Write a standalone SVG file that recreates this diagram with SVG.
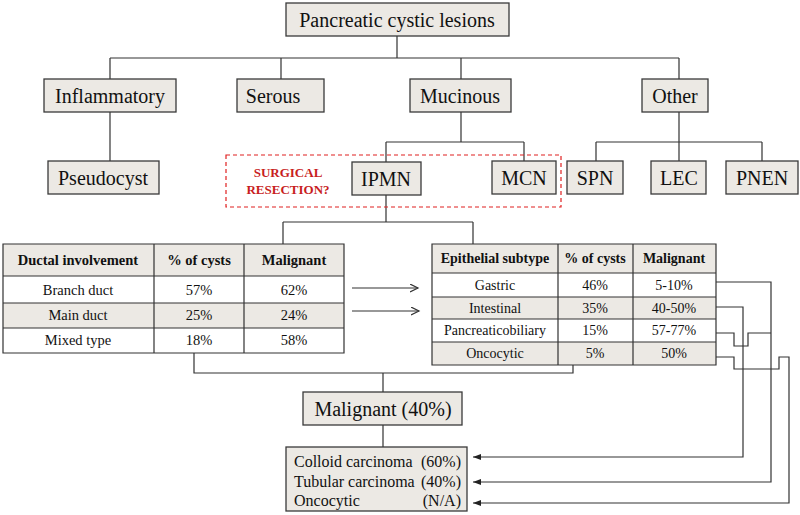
<svg xmlns="http://www.w3.org/2000/svg" width="800" height="515" viewBox="0 0 800 515">
<defs>
<style>
.box{fill:#ece9e4;stroke:#3a3a3a;stroke-width:1.3}
.c{fill:none;stroke:#333;stroke-width:1.2}
.grid{fill:none;stroke:#333;stroke-width:1.2}
.gray{fill:#ece9e4}
.white{fill:#ffffff}
</style>
<marker id="open" markerWidth="10" markerHeight="10" refX="8" refY="4" orient="auto" markerUnits="userSpaceOnUse">
<path d="M0,0 L8,4 L0,8" fill="none" stroke="#333" stroke-width="1.2"/>
</marker>
<marker id="fill" markerWidth="10" markerHeight="8" refX="8" refY="3" orient="auto" markerUnits="userSpaceOnUse">
<path d="M0,0 L8,3 L0,6 Z" fill="#222"/>
</marker>
</defs>
<rect width="800" height="515" fill="#ffffff"/>

<g id="connectors">
<path class="c" d="M397,36 V58 M110,58 H679 M110,58 V79 M281,58 V79 M461,58 V79 M679,58 V79"/>
<path class="c" d="M110,112 V161"/>
<path class="c" d="M461,112 V142 M386,142 H524 M386,142 V162 M524,142 V161"/>
<path class="c" d="M679,112 V161 M596,142 H762 M596,142 V161 M762,142 V161"/>
<path class="c" d="M386,195 V222 M283,222 H473 M283,222 V244 M473,222 V244"/>
<path class="c" d="M352,288 H418" marker-end="url(#open)"/>
<path class="c" d="M352,311 H419" marker-end="url(#open)"/>
<path class="c" d="M194,353 V373 H573 V365 M383,373 V392 M383,425 V447"/>
<path class="c" d="M716,282 H771 V482 H473" marker-end="url(#fill)"/>
<path class="c" d="M716,307 H743 V457 H473" marker-end="url(#fill)"/>
<path class="c" d="M716,333 H734 V346 H748 V333 H771"/>
<path class="c" d="M716,357 H734 V369 H779 V357 H789 V503 H473" marker-end="url(#fill)"/>
</g>

<g id="root">
<rect class="box" x="286" y="3" width="223" height="33"/>
<text font-family="Liberation Serif" font-size="20" fill="#111" text-anchor="middle" x="397" y="27">Pancreatic cystic lesions</text>
</g>
<g id="inflammatory">
<rect class="box" x="44" y="79" width="132" height="33"/>
<text font-family="Liberation Serif" font-size="20" fill="#111" text-anchor="middle" x="110" y="103">Inflammatory</text>
</g>
<g id="serous">
<rect class="box" x="237" y="79" width="87" height="33"/>
<text font-family="Liberation Serif" font-size="20" fill="#111" text-anchor="middle" x="273" y="103">Serous</text>
</g>
<g id="mucinous">
<rect class="box" x="410" y="79" width="101" height="33"/>
<text font-family="Liberation Serif" font-size="20" fill="#111" text-anchor="middle" x="460" y="103">Mucinous</text>
</g>
<g id="other">
<rect class="box" x="642" y="79" width="66" height="33"/>
<text font-family="Liberation Serif" font-size="20" fill="#111" text-anchor="middle" x="675" y="103">Other</text>
</g>
<g id="pseudocyst">
<rect class="box" x="48" y="161" width="111" height="33"/>
<text font-family="Liberation Serif" font-size="20" fill="#111" text-anchor="middle" x="103" y="185">Pseudocyst</text>
</g>
<g id="surgical">
<rect x="226" y="155" width="335" height="52" fill="none" stroke="#e02020" stroke-width="1.2" stroke-dasharray="4,3"/>
<text font-family="Liberation Serif" font-size="13" font-weight="bold" fill="#c81e1e" text-anchor="middle" x="288" y="177">SURGICAL</text>
<text font-family="Liberation Serif" font-size="13" font-weight="bold" fill="#c81e1e" text-anchor="middle" x="288" y="194">RESECTION?</text>
</g>
<g id="ipmn">
<rect class="box" x="352" y="162" width="69" height="33"/>
<text font-family="Liberation Serif" font-size="20" fill="#111" text-anchor="middle" x="386" y="186">IPMN</text>
</g>
<g id="mcn">
<rect class="box" x="492" y="161" width="64" height="33"/>
<text font-family="Liberation Serif" font-size="20" fill="#111" text-anchor="middle" x="524" y="185">MCN</text>
</g>
<g id="spn">
<rect class="box" x="567" y="161" width="56" height="33"/>
<text font-family="Liberation Serif" font-size="20" fill="#111" text-anchor="middle" x="595" y="185">SPN</text>
</g>
<g id="lec">
<rect class="box" x="651" y="161" width="55" height="33"/>
<text font-family="Liberation Serif" font-size="20" fill="#111" text-anchor="middle" x="679" y="185">LEC</text>
</g>
<g id="pnen">
<rect class="box" x="726" y="161" width="72" height="33"/>
<text font-family="Liberation Serif" font-size="20" fill="#111" text-anchor="middle" x="762" y="185">PNEN</text>
</g>

<g id="ductal-table">
<rect class="gray" x="3" y="244" width="341" height="32"/>
<rect class="white" x="3" y="276" width="341" height="27"/>
<rect class="gray" x="3" y="303" width="341" height="25"/>
<rect class="white" x="3" y="328" width="341" height="25"/>
<path class="grid" d="M3,244 H344 V353 H3 Z M3,276 H344 M3,303 H344 M3,328 H344 M154,244 V353 M244,244 V353"/>
<text font-family="Liberation Serif" font-size="14.5" font-weight="bold" fill="#111" text-anchor="middle" x="78" y="265">Ductal involvement</text>
<text font-family="Liberation Serif" font-size="14.5" font-weight="bold" fill="#111" text-anchor="middle" x="199" y="265">% of cysts</text>
<text font-family="Liberation Serif" font-size="14.5" font-weight="bold" fill="#111" text-anchor="middle" x="294" y="265">Malignant</text>
<text font-family="Liberation Serif" font-size="14.5" fill="#111" text-anchor="middle" x="78" y="295">Branch duct</text>
<text font-family="Liberation Serif" font-size="14.5" fill="#111" text-anchor="middle" x="199" y="295">57%</text>
<text font-family="Liberation Serif" font-size="14.5" fill="#111" text-anchor="middle" x="294" y="295">62%</text>
<text font-family="Liberation Serif" font-size="14.5" fill="#111" text-anchor="middle" x="78" y="320">Main duct</text>
<text font-family="Liberation Serif" font-size="14.5" fill="#111" text-anchor="middle" x="199" y="320">25%</text>
<text font-family="Liberation Serif" font-size="14.5" fill="#111" text-anchor="middle" x="294" y="320">24%</text>
<text font-family="Liberation Serif" font-size="14.5" fill="#111" text-anchor="middle" x="78" y="345">Mixed type</text>
<text font-family="Liberation Serif" font-size="14.5" fill="#111" text-anchor="middle" x="199" y="345">18%</text>
<text font-family="Liberation Serif" font-size="14.5" fill="#111" text-anchor="middle" x="294" y="345">58%</text>
</g>

<g id="epithelial-table">
<rect class="gray" x="432" y="244" width="284" height="29"/>
<rect class="white" x="432" y="273" width="284" height="24"/>
<rect class="gray" x="432" y="297" width="284" height="22"/>
<rect class="white" x="432" y="319" width="284" height="23"/>
<rect class="gray" x="432" y="342" width="284" height="23"/>
<path class="grid" d="M432,244 H716 V365 H432 Z M432,273 H716 M432,297 H716 M432,319 H716 M432,342 H716 M558,244 V365 M633,244 V365"/>
<text font-family="Liberation Serif" font-size="14" font-weight="bold" fill="#111" text-anchor="middle" x="495" y="263">Epithelial subtype</text>
<text font-family="Liberation Serif" font-size="14" font-weight="bold" fill="#111" text-anchor="middle" x="595" y="263">% of cysts</text>
<text font-family="Liberation Serif" font-size="14" font-weight="bold" fill="#111" text-anchor="middle" x="674" y="263">Malignant</text>
<text font-family="Liberation Serif" font-size="14" fill="#111" text-anchor="middle" x="495" y="290">Gastric</text>
<text font-family="Liberation Serif" font-size="14" fill="#111" text-anchor="middle" x="595" y="290">46%</text>
<text font-family="Liberation Serif" font-size="14" fill="#111" text-anchor="middle" x="674" y="290">5-10%</text>
<text font-family="Liberation Serif" font-size="14" fill="#111" text-anchor="middle" x="495" y="313">Intestinal</text>
<text font-family="Liberation Serif" font-size="14" fill="#111" text-anchor="middle" x="595" y="313">35%</text>
<text font-family="Liberation Serif" font-size="14" fill="#111" text-anchor="middle" x="674" y="313">40-50%</text>
<text font-family="Liberation Serif" font-size="14" fill="#111" text-anchor="middle" x="495" y="335">Pancreaticobiliary</text>
<text font-family="Liberation Serif" font-size="14" fill="#111" text-anchor="middle" x="595" y="335">15%</text>
<text font-family="Liberation Serif" font-size="14" fill="#111" text-anchor="middle" x="674" y="335">57-77%</text>
<text font-family="Liberation Serif" font-size="14" fill="#111" text-anchor="middle" x="495" y="358">Oncocytic</text>
<text font-family="Liberation Serif" font-size="14" fill="#111" text-anchor="middle" x="595" y="358">5%</text>
<text font-family="Liberation Serif" font-size="14" fill="#111" text-anchor="middle" x="674" y="358">50%</text>
</g>

<g id="malignant">
<rect class="box" x="303" y="392" width="159" height="33"/>
<text font-family="Liberation Serif" font-size="20" fill="#111" text-anchor="middle" x="383" y="416">Malignant (40%)</text>
</g>
<g id="carcinoma">
<rect class="box" x="286" y="447" width="181" height="64"/>
<text font-family="Liberation Serif" font-size="16" fill="#111" text-anchor="start" x="294" y="467">Colloid carcinoma</text>
<text font-family="Liberation Serif" font-size="16" fill="#111" text-anchor="end" x="461" y="467">(60%)</text>
<text font-family="Liberation Serif" font-size="16" fill="#111" text-anchor="start" x="294" y="487">Tubular carcinoma</text>
<text font-family="Liberation Serif" font-size="16" fill="#111" text-anchor="end" x="461" y="487">(40%)</text>
<text font-family="Liberation Serif" font-size="16" fill="#111" text-anchor="start" x="294" y="506">Oncocytic</text>
<text font-family="Liberation Serif" font-size="16" fill="#111" text-anchor="end" x="461" y="506">(N/A)</text>
</g>
</svg>
